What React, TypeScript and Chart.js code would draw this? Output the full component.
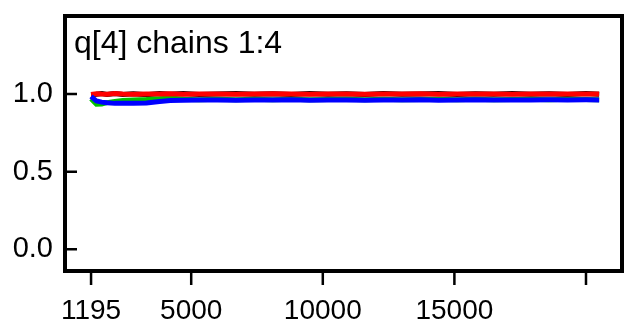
import { useEffect, useRef } from 'react';
import { Chart, registerables } from 'chart.js';

Chart.register(...registerables);

const FONT = '"Liberation Sans", Arial, sans-serif';

const titleText = 'q[4] chains 1:4';
const xTickValues = [1195, 5000, 10000, 15000, 20000];
const xTickLabels = ['1195', '5000', '10000', '15000', ''];
const yTickValues = [0, 0.5, 1.0];
const yTickLabels = ['0.0', '0.5', '1.0'];

const iterations = [1195, 1400, 1600, 1800, 2100, 2400, 2800, 3300, 3800, 4200, 4700, 5300, 6000, 6700, 7400, 8100, 8800, 9500, 10200, 10900, 11600, 12300, 13000, 13700, 14400, 15100, 15800, 16500, 17200, 17900, 18600, 19300, 20000, 20500];

const chainBlack = [0.996, 0.999, 1.003, 0.997, 1.004, 0.998, 1.002, 0.996, 1.003, 0.999, 1.004, 0.997, 1.001, 1.003, 0.998, 1.002, 0.997, 1.004, 0.999, 1.002, 0.997, 1.003, 0.998, 1.001, 1.004, 0.997, 1.002, 0.999, 1.003, 0.998, 1.002, 0.997, 1.003, 0.999];
const chainRed = [0.998, 1.002, 1.0, 0.999, 1.003, 1.0, 0.998, 1.001, 1.0, 1.002, 0.999, 1.0, 1.001, 0.999, 1.0, 1.002, 1.0, 0.999, 1.001, 1.0, 0.998, 1.001, 1.0, 1.002, 0.999, 1.0, 1.001, 1.0, 0.999, 1.001, 1.0, 1.0, 1.001, 1.0];
const chainGreen = [0.97, 0.935, 0.936, 0.945, 0.953, 0.958, 0.962, 0.965, 0.97, 0.975, 0.966, 0.964, 0.966, 0.963, 0.967, 0.964, 0.966, 0.963, 0.965, 0.967, 0.964, 0.966, 0.963, 0.965, 0.967, 0.964, 0.966, 0.963, 0.965, 0.966, 0.964, 0.967, 0.965, 0.964];
const chainBlue = [0.985, 0.955, 0.948, 0.944, 0.94, 0.94, 0.941, 0.943, 0.952, 0.958, 0.96, 0.961, 0.962, 0.96, 0.962, 0.961, 0.963, 0.96, 0.962, 0.961, 0.96, 0.962, 0.961, 0.963, 0.96, 0.962, 0.963, 0.961, 0.962, 0.962, 0.963, 0.962, 0.963, 0.962];

const toPoints = (ys: number[]) => ys.map((y, i) => ({ x: iterations[i], y }));

const framePlugin = {
  id: 'frame',
  afterDraw(chart: any) {
    const { ctx, chartArea } = chart;
    const { left, right, top, bottom } = chartArea;
    const xs = chart.scales.x;
    const ys = chart.scales.y;
    ctx.save();
    ctx.strokeStyle = '#000';
    ctx.lineWidth = 4;
    ctx.strokeRect(left - 2, top - 2, right - left + 4, bottom - top + 4);
    ctx.lineWidth = 2.5;
    ctx.beginPath();
    yTickValues.forEach((v) => {
      const y = ys.getPixelForValue(v);
      ctx.moveTo(left, y);
      ctx.lineTo(left + 10, y);
    });
    xTickValues.forEach((v) => {
      const x = xs.getPixelForValue(v);
      ctx.moveTo(x, bottom);
      ctx.lineTo(x, bottom + 16);
    });
    ctx.stroke();
    ctx.fillStyle = '#000';
    ctx.font = `32px ${FONT}`;
    ctx.textBaseline = 'alphabetic';
    ctx.textAlign = 'left';
    ctx.fillText(titleText, 74, 53);
    ctx.restore();
  },
};

export default function App() {
  const ref = useRef<HTMLCanvasElement>(null);
  useEffect(() => {
    document.body.style.margin = '0';
    const canvas = ref.current!;
    const mk = (label: string, data: number[], color: string) => ({
      label,
      data: toPoints(data),
      borderColor: color,
      backgroundColor: color,
      borderWidth: 5,
      pointRadius: 0,
      tension: 0,
    });
    const chart = new Chart(canvas, {
      type: 'line',
      data: {
        datasets: [
          mk('chain 1', chainBlue, '#0000ff'),
          mk('chain 2', chainRed, '#ff0000'),
          mk('chain 3', chainGreen, '#00c000'),
          mk('chain 4', chainBlack, '#000000'),
        ],
      },
      options: {
        animation: false,
        responsive: false,
        events: [],
        layout: { padding: { top: 18, right: 4, left: 0, bottom: 0 } },
        plugins: { legend: { display: false }, tooltip: { enabled: false } },
        scales: {
          x: {
            type: 'linear',
            min: 281,
            max: 21292,
            grid: { display: false, drawTicks: false },
            border: { display: false },
            afterBuildTicks: (s: any) => {
              s.ticks = xTickValues.map((v) => ({ value: v }));
            },
            afterFit: (s: any) => {
              s.height = 55;
              s.paddingLeft = 0;
              s.paddingRight = 0;
            },
            ticks: {
              autoSkip: false,
              maxRotation: 0,
              padding: 25,
              color: '#000',
              font: { family: FONT, size: 28 },
              callback: (v: any) => xTickLabels[xTickValues.indexOf(Number(v))] ?? '',
            },
          },
          y: {
            type: 'linear',
            min: -0.127,
            max: 1.49,
            grid: { display: false, drawTicks: false },
            border: { display: false },
            afterBuildTicks: (s: any) => {
              s.ticks = yTickValues.map((v) => ({ value: v }));
            },
            afterFit: (s: any) => {
              s.width = 67;
              s.paddingTop = 0;
              s.paddingBottom = 0;
            },
            ticks: {
              autoSkip: false,
              padding: 14,
              color: '#000',
              font: { family: FONT, size: 29 },
              callback: (v: any) => yTickLabels[yTickValues.indexOf(Number(v))] ?? '',
            },
          },
        },
      },
      plugins: [framePlugin],
    });
    return () => chart.destroy();
  }, []);
  return <canvas ref={ref} width={624} height={324} style={{ display: 'block', width: 624, height: 324 }} />;
}
